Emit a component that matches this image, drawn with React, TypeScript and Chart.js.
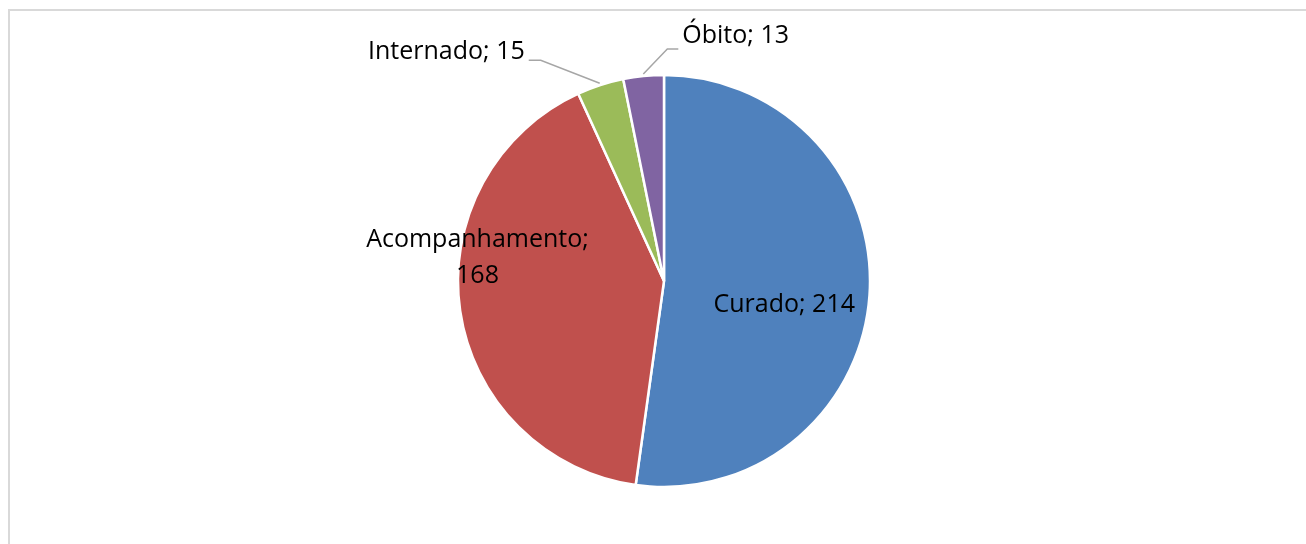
import React, { useEffect, useRef } from "react";
import { Chart, registerables } from "chart.js";

Chart.register(...registerables);

const categories = ["Curado", "Acompanhamento", "Internado", "Óbito"];
const values = [214, 168, 15, 13];
const colors = ["#4F81BD", "#C0504D", "#9BBB59", "#8064A2"];

// label layout (inside labels at fraction of radius, outside labels with leader lines)
type LabelCfg =
  | { kind: "inside"; frac: number; dx: number; dys: number[]; lines: string[] }
  | { kind: "leader"; elbowDx: number; elbowDy: number; horiz: number; gap: number; textDy: number; lines: string[] };

const labelLayout: LabelCfg[] = [
  { kind: "inside", frac: 0.59, dx: -1, dys: [22.5], lines: [`${categories[0]}; ${values[0]}`] },
  { kind: "inside", frac: 0.915, dx: 0, dys: [-61, -25], lines: [`${categories[1]};`, `${values[1]}`] },
  { kind: "leader", elbowDx: -59, elbowDy: -23, horiz: -12, gap: 4, textDy: -1, lines: [`${categories[2]}; ${values[2]}`] },
  { kind: "leader", elbowDx: 24, elbowDy: -25, horiz: 11, gap: 4, textDy: -6.5, lines: [`${categories[3]}; ${values[3]}`] },
];

const labelPlugin = {
  id: "pieLabels",
  afterDatasetsDraw(chart: any) {
    const ctx = chart.ctx as CanvasRenderingContext2D;
    const meta = chart.getDatasetMeta(0);
    ctx.save();
    ctx.font = '25px "Open Sans"';
    ctx.fillStyle = "#000000";
    ctx.textBaseline = "alphabetic";
    meta.data.forEach((arc: any, i: number) => {
      const p = arc.getProps(["x", "y", "startAngle", "endAngle", "outerRadius"], true);
      const mid = (p.startAngle + p.endAngle) / 2;
      const cfg = labelLayout[i];
      if (!cfg) return;
      if (cfg.kind === "inside") {
        const r = p.outerRadius * cfg.frac;
        const ax = p.x + Math.cos(mid) * r + cfg.dx;
        const ay = p.y + Math.sin(mid) * r;
        ctx.textAlign = "center";
        cfg.lines.forEach((line, k) => {
          ctx.fillText(line, ax, ay + cfg.dys[k]);
        });
      } else {
        const r = p.outerRadius + 2;
        const sx = p.x + Math.cos(mid) * r;
        const sy = p.y + Math.sin(mid) * r;
        const ex = sx + cfg.elbowDx;
        const ey = sy + cfg.elbowDy;
        const hx = ex + cfg.horiz;
        ctx.strokeStyle = "#A6A6A6";
        ctx.lineWidth = 1.5;
        ctx.beginPath();
        ctx.moveTo(sx, sy);
        ctx.lineTo(ex, ey);
        ctx.lineTo(hx, ey);
        ctx.stroke();
        const right = cfg.horiz < 0;
        ctx.textAlign = right ? "right" : "left";
        const tx = right ? hx - cfg.gap : hx + cfg.gap;
        ctx.fillText(cfg.lines[0], tx, ey + cfg.textDy);
      }
    });
    ctx.restore();
  },
};

export default function App() {
  const canvasRef = useRef<HTMLCanvasElement | null>(null);

  useEffect(() => {
    if (!canvasRef.current) return;
    const chart = new Chart(canvasRef.current, {
      type: "pie",
      data: {
        labels: categories,
        datasets: [
          {
            data: values,
            backgroundColor: colors,
            borderColor: "#FFFFFF",
            borderWidth: 2.5,
            radius: 206,
          } as any,
        ],
      },
      options: {
        responsive: false,
        animation: false,
        layout: { padding: { left: 30, right: 8, top: 40, bottom: 22 } },
        plugins: {
          legend: { display: false },
          tooltip: { enabled: false },
          title: { display: false },
        },
      },
      plugins: [labelPlugin],
    });
    return () => chart.destroy();
  }, []);

  return (
    <>
      <div
        style={{
          position: "fixed",
          left: 8,
          top: 9,
          width: 1400,
          height: 700,
          borderTop: "2px solid #D9D9D9",
          borderLeft: "2px solid #D9D9D9",
          background: "#FFFFFF",
        }}
      />
      <canvas
        ref={canvasRef}
        width={1306}
        height={544}
        style={{ position: "fixed", left: 0, top: 0, width: 1306, height: 544 }}
      />
    </>
  );
}
